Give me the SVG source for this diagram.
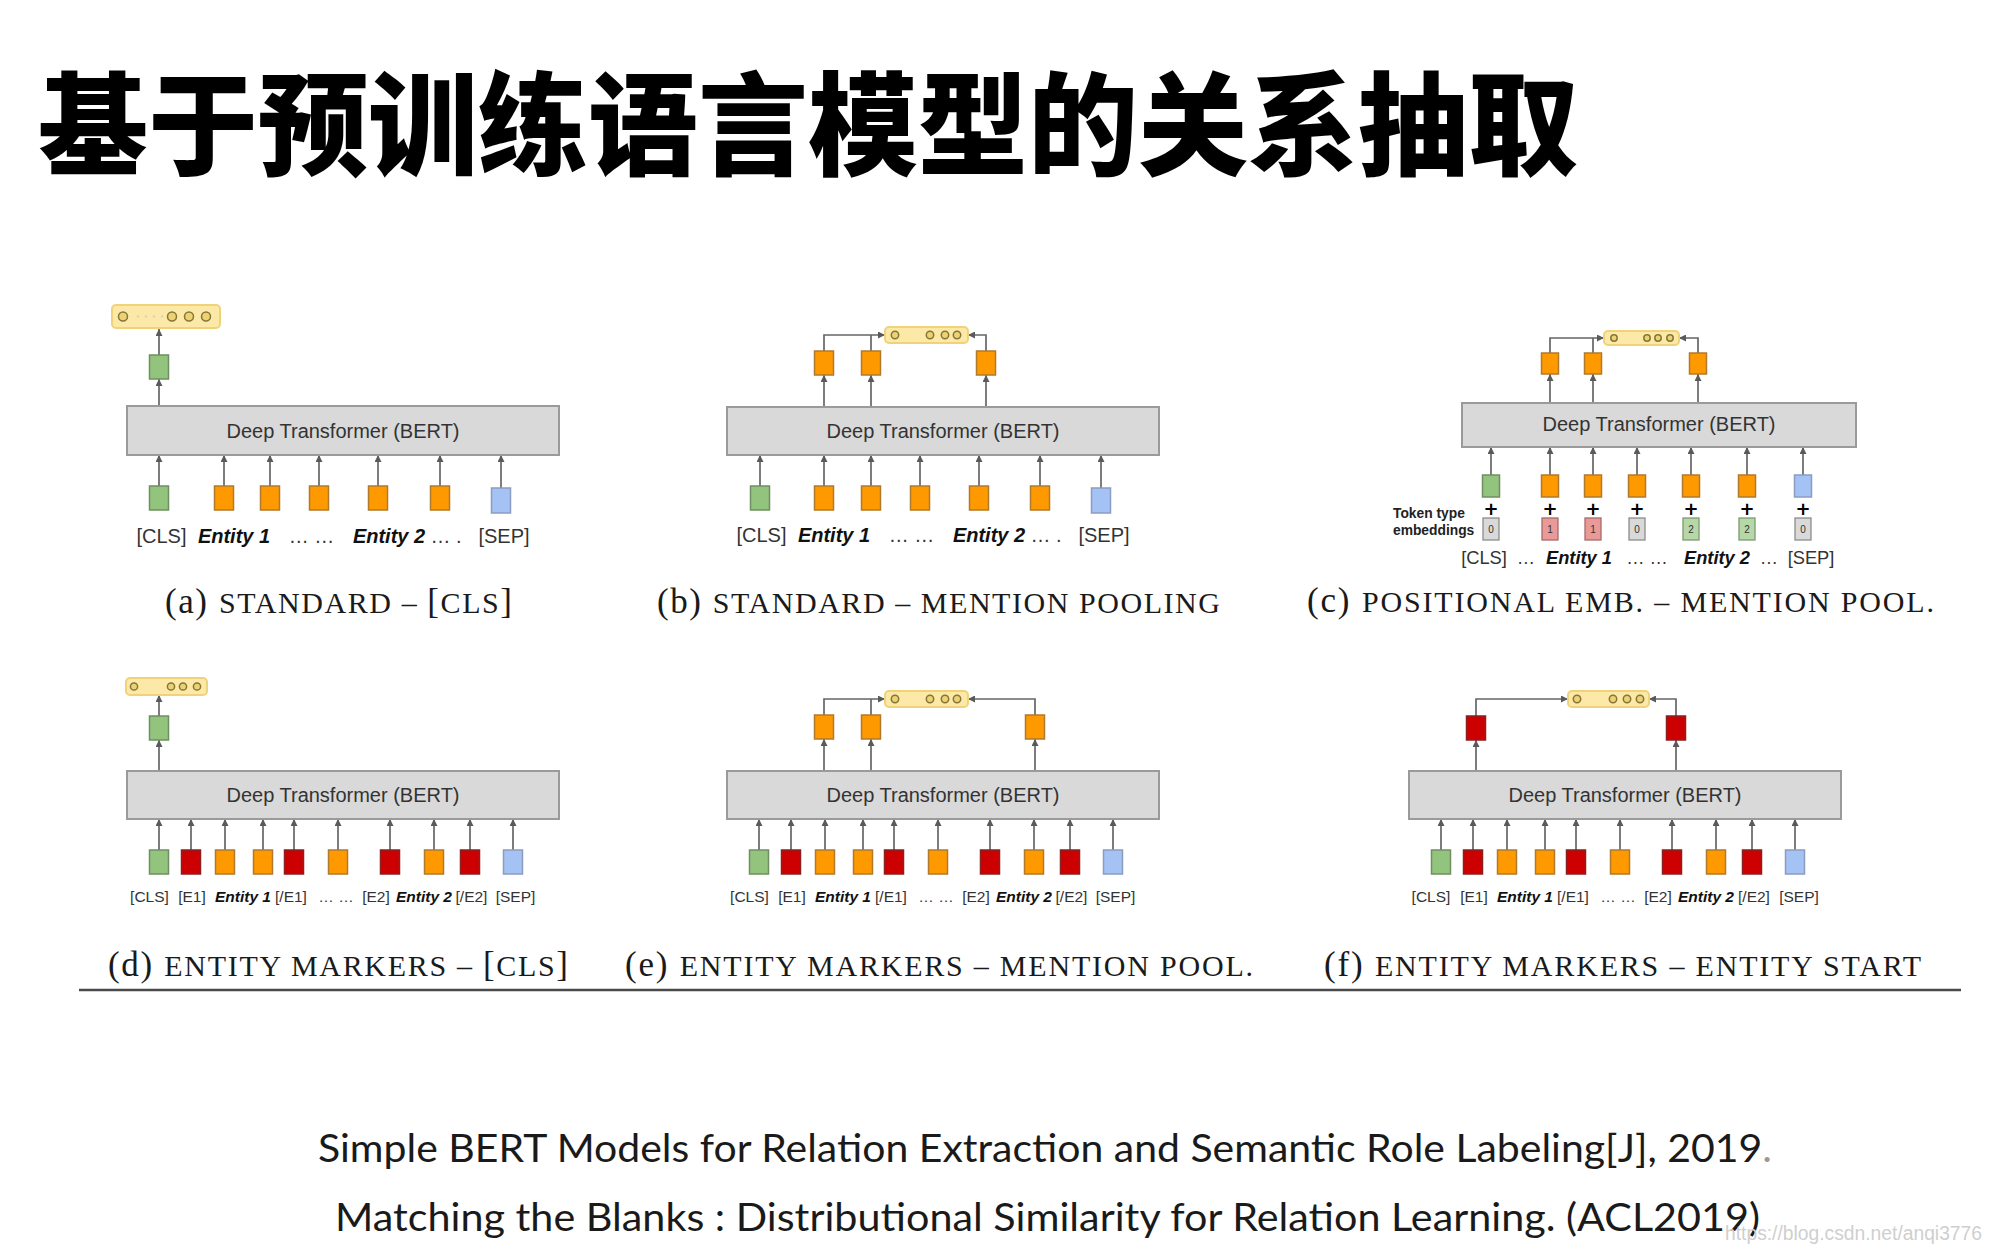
<svg xmlns="http://www.w3.org/2000/svg" width="2000" height="1257" viewBox="0 0 2000 1257">
  <defs>
    <marker id="ah" viewBox="0 0 10 10" refX="10" refY="5" markerWidth="7" markerHeight="7" markerUnits="userSpaceOnUse" orient="auto">
      <path d="M0,0 L10,5 L0,10 z" fill="#5a5a5a"/>
    </marker>
    <style>
      .title { font-family: "Noto Sans CJK SC", "Noto Sans CJK TC", sans-serif; font-weight: 900; font-size: 112px; fill: #000; }
      .bert { fill: #d9d9d9; stroke: #9a9a9a; stroke-width: 2; }
      .bt { font-family: "Liberation Sans", Arial, sans-serif; font-size: 20px; fill: #333; text-anchor: middle; }
      .g { fill: #93c47d; stroke: #6f8f62; stroke-width: 1.5; }
      .o { fill: #ff9900; stroke: #b07a2c; stroke-width: 1.5; }
      .b { fill: #a4c2f4; stroke: #8a9cc0; stroke-width: 1.5; }
      .r { fill: #cc0000; stroke: #8a2020; stroke-width: 1.5; }
      .tg { fill: #d9d9d9; stroke: #8c8c8c; stroke-width: 1.3; }
      .tp { fill: #ea9999; stroke: #a86a6a; stroke-width: 1.3; }
      .tgr { fill: #b6d7a8; stroke: #7d9a70; stroke-width: 1.3; }
      .tn { font-family: "Liberation Sans", Arial, sans-serif; font-size: 10px; fill: #333; text-anchor: middle; }
      .ob { fill: #fce9a8; stroke: #f0d378; stroke-width: 2; }
      .oc { fill: #ecd273; stroke: #857539; stroke-width: 1.5; }
      .fd { fill: #d8d2bc; }
      .lbl { font-family: "Liberation Sans", Arial, sans-serif; fill: #333; text-anchor: middle; }
      .ent { font-weight: bold; font-style: italic; fill: #111; }
      .plus { font-family: "DejaVu Sans", sans-serif; font-weight: bold; font-size: 18px; fill: #000; text-anchor: middle; }
      .tt { font-family: "Liberation Sans", Arial, sans-serif; font-weight: bold; font-size: 13.8px; fill: #222; }
      .cap { font-family: "Liberation Serif", "Times New Roman", serif; font-size: 30px; fill: #1a1a1a; }
      .big { font-size: 35px; }
      .ar { fill: none; stroke: #666; stroke-width: 1.7; marker-end: url(#ah); }
      .ln { fill: none; stroke: #666; stroke-width: 1.7; }
      .ref { font-family: Lato, "Open Sans", sans-serif; font-size: 38px; fill: #1a1a1a; }
      .wm { font-family: "Liberation Sans", Arial, sans-serif; font-size: 20px; fill: #cfcfcf; }
    </style>
  </defs>

  <rect width="2000" height="1257" fill="#fff"/>

  <text id="title" class="title" x="38" y="167" textLength="1540" lengthAdjust="spacingAndGlyphs">基于预训练语言模型的关系抽取</text>

  <!-- connectors -->
  <g id="connectors">
    <!-- (a) -->
    <path class="ar" d="M159,355 V329"/>
    <path class="ar" d="M159,406 V379"/>
    <path class="ar" d="M159,486 V455"/>
    <path class="ar" d="M224,486 V455"/>
    <path class="ar" d="M270,486 V455"/>
    <path class="ar" d="M319,486 V455"/>
    <path class="ar" d="M378,486 V455"/>
    <path class="ar" d="M440,486 V455"/>
    <path class="ar" d="M501,488 V455"/>
    <!-- (b) -->
    <path class="ar" d="M824,351 V335 H885"/>
    <path class="ln" d="M871,351 V335"/>
    <path class="ar" d="M986,351 V335 H968"/>
    <path class="ar" d="M824,407 V375"/>
    <path class="ar" d="M871,407 V375"/>
    <path class="ar" d="M986,407 V375"/>
    <path class="ar" d="M760,486 V455"/>
    <path class="ar" d="M824,486 V455"/>
    <path class="ar" d="M871,486 V455"/>
    <path class="ar" d="M920,486 V455"/>
    <path class="ar" d="M979,486 V455"/>
    <path class="ar" d="M1040,486 V455"/>
    <path class="ar" d="M1101,488 V455"/>
    <!-- (c) -->
    <path class="ar" d="M1550,353 V338 H1604"/>
    <path class="ln" d="M1593,353 V338"/>
    <path class="ar" d="M1698,353 V338 H1679"/>
    <path class="ar" d="M1550,403 V374"/>
    <path class="ar" d="M1593,403 V374"/>
    <path class="ar" d="M1698,403 V374"/>
    <path class="ar" d="M1491,475 V447"/>
    <path class="ar" d="M1550,475 V447"/>
    <path class="ar" d="M1593,475 V447"/>
    <path class="ar" d="M1637,475 V447"/>
    <path class="ar" d="M1691,475 V447"/>
    <path class="ar" d="M1747,475 V447"/>
    <path class="ar" d="M1803,475 V447"/>
    <!-- (d) -->
    <path class="ar" d="M159,716 V695"/>
    <path class="ar" d="M159,771 V740"/>
    <path class="ar" d="M159,850 V819"/>
    <path class="ar" d="M191,850 V819"/>
    <path class="ar" d="M225,850 V819"/>
    <path class="ar" d="M263,850 V819"/>
    <path class="ar" d="M294,850 V819"/>
    <path class="ar" d="M338,850 V819"/>
    <path class="ar" d="M390,850 V819"/>
    <path class="ar" d="M434,850 V819"/>
    <path class="ar" d="M470,850 V819"/>
    <path class="ar" d="M513,850 V819"/>
    <!-- (e) -->
    <path class="ar" d="M824,715 V699 H885"/>
    <path class="ln" d="M871,715 V699"/>
    <path class="ar" d="M1035,715 V699 H968"/>
    <path class="ar" d="M824,771 V739"/>
    <path class="ar" d="M871,771 V739"/>
    <path class="ar" d="M1035,771 V739"/>
    <path class="ar" d="M759,850 V819"/>
    <path class="ar" d="M791,850 V819"/>
    <path class="ar" d="M825,850 V819"/>
    <path class="ar" d="M863,850 V819"/>
    <path class="ar" d="M894,850 V819"/>
    <path class="ar" d="M938,850 V819"/>
    <path class="ar" d="M990,850 V819"/>
    <path class="ar" d="M1034,850 V819"/>
    <path class="ar" d="M1070,850 V819"/>
    <path class="ar" d="M1113,850 V819"/>
    <!-- (f) -->
    <path class="ar" d="M1476,716 V699 H1568"/>
    <path class="ar" d="M1676,716 V699 H1649"/>
    <path class="ar" d="M1476,771 V740"/>
    <path class="ar" d="M1676,771 V740"/>
    <path class="ar" d="M1441,850 V819"/>
    <path class="ar" d="M1473,850 V819"/>
    <path class="ar" d="M1507,850 V819"/>
    <path class="ar" d="M1545,850 V819"/>
    <path class="ar" d="M1576,850 V819"/>
    <path class="ar" d="M1620,850 V819"/>
    <path class="ar" d="M1672,850 V819"/>
    <path class="ar" d="M1716,850 V819"/>
    <path class="ar" d="M1752,850 V819"/>
    <path class="ar" d="M1795,850 V819"/>
  </g>

  <!-- (a) standard, [CLS] output -->
  <g id="panel-a">
    <g id="a-out">
      <rect class="ob" x="112" y="305" width="108" height="23" rx="4"/>
      <circle class="oc" cx="123" cy="316.5" r="4.5"/>
      <circle class="fd" cx="138" cy="316.5" r="1.2"/>
      <circle class="fd" cx="146" cy="316.5" r="1.2"/>
      <circle class="fd" cx="154" cy="316.5" r="1.2"/>
      <circle class="fd" cx="162" cy="316.5" r="1.2"/>
      <circle class="oc" cx="172" cy="316.5" r="4.5"/>
      <circle class="oc" cx="189" cy="316.5" r="4.5"/>
      <circle class="oc" cx="206" cy="316.5" r="4.5"/>
    </g>
    <rect id="a-cls-out" class="g" x="149.5" y="355" width="19" height="24"/>
    <g id="a-bert">
      <rect class="bert" x="127" y="406" width="432" height="49"/>
      <text class="bt" x="343" y="438">Deep Transformer (BERT)</text>
    </g>
    <g id="a-tokens">
      <rect class="g" x="149.5" y="486" width="19" height="24"/>
      <rect class="o" x="214.5" y="486" width="19" height="24"/>
      <rect class="o" x="260.5" y="486" width="19" height="24"/>
      <rect class="o" x="309.5" y="486" width="19" height="24"/>
      <rect class="o" x="368.5" y="486" width="19" height="24"/>
      <rect class="o" x="430.5" y="486" width="19" height="24"/>
      <rect class="b" x="491.5" y="488" width="19" height="25"/>
    </g>
    <g id="a-labels" class="lbl" font-size="20">
      <text x="161.5" y="543">[CLS]</text>
      <text class="ent" x="234" y="543">Entity 1</text>
      <text x="311.5" y="543">… …</text>
      <text class="ent" x="389" y="543">Entity 2</text>
      <text x="446" y="543">… .</text>
      <text x="504" y="543">[SEP]</text>
    </g>
    <text id="a-caption" class="cap" x="165" y="613" textLength="347" lengthAdjust="spacing"><tspan class="big">(a) </tspan>STANDARD – <tspan class="big">[</tspan>CLS<tspan class="big">]</tspan></text>
  </g>

  <!-- (b) standard, mention pooling -->
  <g id="panel-b">
    <g id="b-out">
      <rect class="ob" x="885" y="327" width="83" height="16" rx="4"/>
      <circle class="oc" cx="895" cy="335" r="3.7"/>
      <circle class="oc" cx="930" cy="335" r="3.7"/>
      <circle class="oc" cx="945" cy="335" r="3.7"/>
      <circle class="oc" cx="957" cy="335" r="3.7"/>
    </g>
    <g id="b-pooled">
      <rect class="o" x="814.5" y="351" width="19" height="24"/>
      <rect class="o" x="861.5" y="351" width="19" height="24"/>
      <rect class="o" x="976.5" y="351" width="19" height="24"/>
    </g>
    <g id="b-bert">
      <rect class="bert" x="727" y="407" width="432" height="48"/>
      <text class="bt" x="943" y="438">Deep Transformer (BERT)</text>
    </g>
    <g id="b-tokens">
      <rect class="g" x="750.5" y="486" width="19" height="24"/>
      <rect class="o" x="814.5" y="486" width="19" height="24"/>
      <rect class="o" x="861.5" y="486" width="19" height="24"/>
      <rect class="o" x="910.5" y="486" width="19" height="24"/>
      <rect class="o" x="969.5" y="486" width="19" height="24"/>
      <rect class="o" x="1030.5" y="486" width="19" height="24"/>
      <rect class="b" x="1091.5" y="488" width="19" height="25"/>
    </g>
    <g id="b-labels" class="lbl" font-size="20">
      <text x="761.5" y="542">[CLS]</text>
      <text class="ent" x="834" y="542">Entity 1</text>
      <text x="911.5" y="542">… …</text>
      <text class="ent" x="989" y="542">Entity 2</text>
      <text x="1046" y="542">… .</text>
      <text x="1104" y="542">[SEP]</text>
    </g>
    <text id="b-caption" class="cap" x="657" y="613" textLength="563" lengthAdjust="spacing"><tspan class="big">(b) </tspan>STANDARD – MENTION POOLING</text>
  </g>

  <!-- (c) positional embeddings, mention pooling -->
  <g id="panel-c">
    <g id="c-out">
      <rect class="ob" x="1604" y="331" width="75" height="14" rx="4"/>
      <circle class="oc" cx="1614" cy="338" r="3.2"/>
      <circle class="oc" cx="1647" cy="338" r="3.2"/>
      <circle class="oc" cx="1658" cy="338" r="3.2"/>
      <circle class="oc" cx="1670" cy="338" r="3.2"/>
    </g>
    <g id="c-pooled">
      <rect class="o" x="1541.5" y="353" width="17" height="21"/>
      <rect class="o" x="1584.5" y="353" width="17" height="21"/>
      <rect class="o" x="1689.5" y="353" width="17" height="21"/>
    </g>
    <g id="c-bert">
      <rect class="bert" x="1462" y="403" width="394" height="44"/>
      <text class="bt" x="1659" y="431" font-size="18.2">Deep Transformer (BERT)</text>
    </g>
    <g id="c-tokens">
      <rect class="g" x="1482.5" y="475" width="17" height="22"/>
      <rect class="o" x="1541.5" y="475" width="17" height="22"/>
      <rect class="o" x="1584.5" y="475" width="17" height="22"/>
      <rect class="o" x="1628.5" y="475" width="17" height="22"/>
      <rect class="o" x="1682.5" y="475" width="17" height="22"/>
      <rect class="o" x="1738.5" y="475" width="17" height="22"/>
      <rect class="b" x="1794.5" y="475" width="17" height="22"/>
    </g>
    <g id="c-plus">
      <text class="plus" x="1491" y="515">+</text>
      <text class="plus" x="1550" y="515">+</text>
      <text class="plus" x="1593" y="515">+</text>
      <text class="plus" x="1637" y="515">+</text>
      <text class="plus" x="1691" y="515">+</text>
      <text class="plus" x="1747" y="515">+</text>
      <text class="plus" x="1803" y="515">+</text>
    </g>
    <g id="c-token-type">
      <text class="tt" x="1393" y="518">Token type</text>
      <text class="tt" x="1393" y="535">embeddings</text>
      <rect class="tg" x="1483" y="518" width="16" height="22"/>
      <rect class="tp" x="1542" y="518" width="16" height="22"/>
      <rect class="tp" x="1585" y="518" width="16" height="22"/>
      <rect class="tg" x="1629" y="518" width="16" height="22"/>
      <rect class="tgr" x="1683" y="518" width="16" height="22"/>
      <rect class="tgr" x="1739" y="518" width="16" height="22"/>
      <rect class="tg" x="1795" y="518" width="16" height="22"/>
      <text class="tn" x="1491" y="532.5">0</text>
      <text class="tn" x="1550" y="532.5">1</text>
      <text class="tn" x="1593" y="532.5">1</text>
      <text class="tn" x="1637" y="532.5">0</text>
      <text class="tn" x="1691" y="532.5">2</text>
      <text class="tn" x="1747" y="532.5">2</text>
      <text class="tn" x="1803" y="532.5">0</text>
    </g>
    <g id="c-labels" class="lbl" font-size="18.3">
      <text x="1484" y="564">[CLS]</text>
      <text x="1526" y="564">…</text>
      <text class="ent" x="1579" y="564">Entity 1</text>
      <text x="1647" y="564">… …</text>
      <text class="ent" x="1717" y="564">Entity 2</text>
      <text x="1769" y="564">…</text>
      <text x="1811" y="564">[SEP]</text>
    </g>
    <text id="c-caption" class="cap" x="1307" y="612" textLength="627" lengthAdjust="spacing"><tspan class="big">(c) </tspan>POSITIONAL EMB. – MENTION POOL.</text>
  </g>

  <!-- (d) entity markers, [CLS] output -->
  <g id="panel-d">
    <g id="d-out">
      <rect class="ob" x="126" y="678" width="81" height="17" rx="4"/>
      <circle class="oc" cx="134" cy="686.5" r="3.6"/>
      <circle class="oc" cx="171" cy="686.5" r="3.6"/>
      <circle class="oc" cx="183" cy="686.5" r="3.6"/>
      <circle class="oc" cx="197" cy="686.5" r="3.6"/>
    </g>
    <rect id="d-cls-out" class="g" x="149.5" y="716" width="19" height="24"/>
    <g id="d-bert">
      <rect class="bert" x="127" y="771" width="432" height="48"/>
      <text class="bt" x="343" y="802">Deep Transformer (BERT)</text>
    </g>
    <g id="d-tokens">
      <rect class="g" x="149.5" y="850" width="19" height="24"/>
      <rect class="r" x="181.5" y="850" width="19" height="24"/>
      <rect class="o" x="215.5" y="850" width="19" height="24"/>
      <rect class="o" x="253.5" y="850" width="19" height="24"/>
      <rect class="r" x="284.5" y="850" width="19" height="24"/>
      <rect class="o" x="328.5" y="850" width="19" height="24"/>
      <rect class="r" x="380.5" y="850" width="19" height="24"/>
      <rect class="o" x="424.5" y="850" width="19" height="24"/>
      <rect class="r" x="460.5" y="850" width="19" height="24"/>
      <rect class="b" x="503.5" y="850" width="19" height="24"/>
    </g>
    <g id="d-labels" class="lbl" font-size="15.5">
      <text x="149.5" y="902">[CLS]</text>
      <text x="192" y="902">[E1]</text>
      <text class="ent" x="243" y="902">Entity 1</text>
      <text x="291" y="902">[/E1]</text>
      <text x="336" y="902">… …</text>
      <text x="376" y="902">[E2]</text>
      <text class="ent" x="424" y="902">Entity 2</text>
      <text x="471.5" y="902">[/E2]</text>
      <text x="515.5" y="902">[SEP]</text>
    </g>
    <text id="d-caption" class="cap" x="108" y="976" textLength="460" lengthAdjust="spacing"><tspan class="big">(d) </tspan>ENTITY MARKERS – <tspan class="big">[</tspan>CLS<tspan class="big">]</tspan></text>
  </g>

  <!-- (e) entity markers, mention pooling -->
  <g id="panel-e">
    <g id="e-out">
      <rect class="ob" x="885" y="691" width="83" height="16" rx="4"/>
      <circle class="oc" cx="895" cy="699" r="3.7"/>
      <circle class="oc" cx="930" cy="699" r="3.7"/>
      <circle class="oc" cx="945" cy="699" r="3.7"/>
      <circle class="oc" cx="957" cy="699" r="3.7"/>
    </g>
    <g id="e-pooled">
      <rect class="o" x="814.5" y="715" width="19" height="24"/>
      <rect class="o" x="861.5" y="715" width="19" height="24"/>
      <rect class="o" x="1025.5" y="715" width="19" height="24"/>
    </g>
    <g id="e-bert">
      <rect class="bert" x="727" y="771" width="432" height="48"/>
      <text class="bt" x="943" y="802">Deep Transformer (BERT)</text>
    </g>
    <g id="e-tokens">
      <rect class="g" x="749.5" y="850" width="19" height="24"/>
      <rect class="r" x="781.5" y="850" width="19" height="24"/>
      <rect class="o" x="815.5" y="850" width="19" height="24"/>
      <rect class="o" x="853.5" y="850" width="19" height="24"/>
      <rect class="r" x="884.5" y="850" width="19" height="24"/>
      <rect class="o" x="928.5" y="850" width="19" height="24"/>
      <rect class="r" x="980.5" y="850" width="19" height="24"/>
      <rect class="o" x="1024.5" y="850" width="19" height="24"/>
      <rect class="r" x="1060.5" y="850" width="19" height="24"/>
      <rect class="b" x="1103.5" y="850" width="19" height="24"/>
    </g>
    <g id="e-labels" class="lbl" font-size="15.5">
      <text x="749.5" y="902">[CLS]</text>
      <text x="792" y="902">[E1]</text>
      <text class="ent" x="843" y="902">Entity 1</text>
      <text x="891" y="902">[/E1]</text>
      <text x="936" y="902">… …</text>
      <text x="976" y="902">[E2]</text>
      <text class="ent" x="1024" y="902">Entity 2</text>
      <text x="1071.5" y="902">[/E2]</text>
      <text x="1115.5" y="902">[SEP]</text>
    </g>
    <text id="e-caption" class="cap" x="625" y="976" textLength="628" lengthAdjust="spacing"><tspan class="big">(e) </tspan>ENTITY MARKERS – MENTION POOL.</text>
  </g>

  <!-- (f) entity markers, entity start -->
  <g id="panel-f">
    <g id="f-out">
      <rect class="ob" x="1568" y="691" width="81" height="16" rx="4"/>
      <circle class="oc" cx="1577" cy="699" r="3.7"/>
      <circle class="oc" cx="1613" cy="699" r="3.7"/>
      <circle class="oc" cx="1627" cy="699" r="3.7"/>
      <circle class="oc" cx="1640" cy="699" r="3.7"/>
    </g>
    <g id="f-starts">
      <rect class="r" x="1466.5" y="716" width="19" height="24"/>
      <rect class="r" x="1666.5" y="716" width="19" height="24"/>
    </g>
    <g id="f-bert">
      <rect class="bert" x="1409" y="771" width="432" height="48"/>
      <text class="bt" x="1625" y="802">Deep Transformer (BERT)</text>
    </g>
    <g id="f-tokens">
      <rect class="g" x="1431.5" y="850" width="19" height="24"/>
      <rect class="r" x="1463.5" y="850" width="19" height="24"/>
      <rect class="o" x="1497.5" y="850" width="19" height="24"/>
      <rect class="o" x="1535.5" y="850" width="19" height="24"/>
      <rect class="r" x="1566.5" y="850" width="19" height="24"/>
      <rect class="o" x="1610.5" y="850" width="19" height="24"/>
      <rect class="r" x="1662.5" y="850" width="19" height="24"/>
      <rect class="o" x="1706.5" y="850" width="19" height="24"/>
      <rect class="r" x="1742.5" y="850" width="19" height="24"/>
      <rect class="b" x="1785.5" y="850" width="19" height="24"/>
    </g>
    <g id="f-labels" class="lbl" font-size="15.5">
      <text x="1431" y="902">[CLS]</text>
      <text x="1474" y="902">[E1]</text>
      <text class="ent" x="1525" y="902">Entity 1</text>
      <text x="1573" y="902">[/E1]</text>
      <text x="1618" y="902">… …</text>
      <text x="1658" y="902">[E2]</text>
      <text class="ent" x="1706" y="902">Entity 2</text>
      <text x="1754" y="902">[/E2]</text>
      <text x="1799" y="902">[SEP]</text>
    </g>
    <text id="f-caption" class="cap" x="1324" y="976" textLength="597" lengthAdjust="spacing"><tspan class="big">(f) </tspan>ENTITY MARKERS – ENTITY START</text>
  </g>

  <line id="rule" x1="79" y1="990" x2="1961" y2="990" stroke="#4a4a4a" stroke-width="2.6"/>

  <g id="references">
    <text class="ref" x="318" y="1162" textLength="1454" lengthAdjust="spacingAndGlyphs">Simple BERT Models for Relation Extraction and Semantic Role Labeling[J], 2019<tspan fill="#999">.</tspan></text>
    <text class="ref" x="335" y="1231" textLength="1425" lengthAdjust="spacingAndGlyphs">Matching the Blanks : Distributional Similarity for Relation Learning. (ACL2019)</text>
  </g>
  <text id="watermark" class="wm" x="1725" y="1240" textLength="257" lengthAdjust="spacingAndGlyphs">https://blog.csdn.net/anqi3776</text>
</svg>
